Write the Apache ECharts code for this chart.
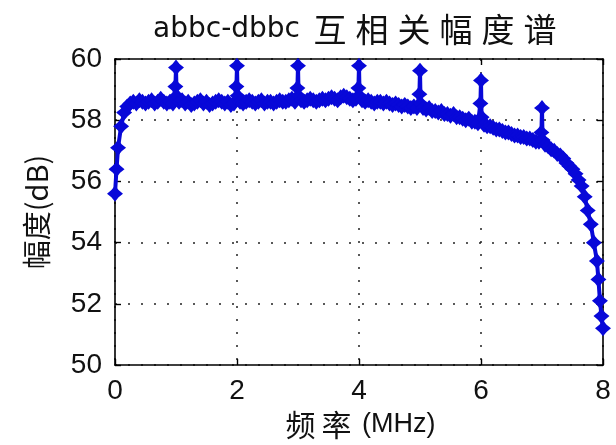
<!DOCTYPE html>
<html>
<head>
<meta charset="utf-8">
<script src="https://cdn.jsdelivr.net/npm/echarts@6/dist/echarts.min.js"></script>
<style>
  html, body { margin: 0; padding: 0; background: #fff; }
  #spectrum-chart { width: 616px; height: 445px; }
</style>
</head>
<body>
<div id="spectrum-chart"></div>
<script>
// frequency (MHz) / amplitude (dB)
let freqMHz = [
  0, 0.025, 0.05, 0.1, 0.15, 0.2, 0.25, 0.3, 0.35, 0.4, 0.45, 0.5, 0.55, 0.6, 0.65, 0.7, 0.75, 0.8, 0.85, 0.9, 0.95, 0.99, 1, 1.01,
  1.05, 1.1, 1.15, 1.2, 1.25, 1.3, 1.35, 1.4, 1.45, 1.5, 1.55, 1.6, 1.65, 1.7, 1.75, 1.8, 1.85, 1.9, 1.95, 1.99, 2, 2.01,
  2.05, 2.1, 2.15, 2.2, 2.25, 2.3, 2.35, 2.4, 2.45, 2.5, 2.55, 2.6, 2.65, 2.7, 2.75, 2.8, 2.85, 2.9, 2.95, 2.99, 3, 3.01,
  3.05, 3.1, 3.15, 3.2, 3.25, 3.3, 3.35, 3.4, 3.45, 3.5, 3.55, 3.6, 3.65, 3.7, 3.75, 3.8, 3.85, 3.9, 3.95, 3.99, 4, 4.01,
  4.05, 4.1, 4.15, 4.2, 4.25, 4.3, 4.35, 4.4, 4.45, 4.5, 4.55, 4.6, 4.65, 4.7, 4.75, 4.8, 4.85, 4.9, 4.95, 4.99, 5, 5.01,
  5.05, 5.1, 5.15, 5.2, 5.25, 5.3, 5.35, 5.4, 5.45, 5.5, 5.55, 5.6, 5.65, 5.7, 5.75, 5.8, 5.85, 5.9, 5.95, 5.99, 6, 6.01,
  6.05, 6.1, 6.15, 6.2, 6.25, 6.3, 6.35, 6.4, 6.45, 6.5, 6.55, 6.6, 6.65, 6.7, 6.75, 6.8, 6.85, 6.9, 6.95, 6.99, 7, 7.01,
  7.05, 7.1, 7.15, 7.2, 7.25, 7.3, 7.35, 7.4, 7.45, 7.5, 7.55, 7.6, 7.65, 7.7, 7.75, 7.8, 7.85, 7.9, 7.925, 7.95, 7.975, 8
];
let ampDb = [
  55.6, 56.4, 57.1, 57.8, 58.25, 58.45, 58.55, 58.6, 58.55, 58.65, 58.6, 58.55, 58.6, 58.65, 58.55, 58.6, 58.7, 58.6, 58.55, 58.6, 58.55, 59.1, 59.72, 58.8,
  58.6, 58.65, 58.55, 58.6, 58.5, 58.55, 58.6, 58.65, 58.55, 58.6, 58.5, 58.55, 58.6, 58.65, 58.6, 58.55, 58.6, 58.5, 58.55, 59.1, 59.78, 58.8,
  58.6, 58.55, 58.6, 58.65, 58.6, 58.55, 58.6, 58.65, 58.55, 58.6, 58.6, 58.55, 58.6, 58.65, 58.6, 58.6, 58.65, 58.7, 58.6, 59.05, 59.78, 58.8,
  58.65, 58.6, 58.65, 58.7, 58.65, 58.6, 58.65, 58.7, 58.65, 58.7, 58.75, 58.7, 58.65, 58.75, 58.8, 58.75, 58.7, 58.65, 58.7, 59.05, 59.78, 58.8,
  58.65, 58.6, 58.65, 58.6, 58.55, 58.6, 58.6, 58.55, 58.6, 58.55, 58.5, 58.55, 58.5, 58.45, 58.5, 58.45, 58.4, 58.45, 58.4, 58.85, 59.62, 58.55,
  58.4, 58.35, 58.4, 58.3, 58.3, 58.25, 58.3, 58.2, 58.2, 58.15, 58.2, 58.1, 58.1, 58.05, 58.0, 58.05, 57.95, 57.95, 57.9, 58.55, 59.3, 58.1,
  57.85, 57.8, 57.8, 57.75, 57.7, 57.7, 57.65, 57.6, 57.6, 57.55, 57.5, 57.5, 57.45, 57.45, 57.4, 57.4, 57.35, 57.3, 57.3, 57.6, 58.4, 57.35,
  57.2, 57.15, 57.05, 57.0, 56.9, 56.85, 56.75, 56.6, 56.5, 56.4, 56.25, 56.05, 55.85, 55.5, 55.05, 54.6, 54.0, 53.4, 52.8, 52.1, 51.6, 51.2
];
let xTicks = [0, 2, 4, 6, 8];
let yTicks = [50, 52, 54, 56, 58, 60];

let seriesData = freqMHz.map((f, i) => [f, ampDb[i]]);

let spectrumChart = echarts.init(document.getElementById('spectrum-chart'));

let labelFont = 'Liberation Sans';
let cjkFont = '"Noto Sans CJK SC", "Liberation Sans"';
let starPath = 'path://M0,-10 L4.5,-4.5 L10,0 L4.5,4.5 L0,10 L-4.5,4.5 L-10,0 L-4.5,-4.5 Z';

let dotGrid = {
  show: true,
  lineStyle: { color: '#222', width: 1.5, type: [2, 11] }
};

let spectrumOption = {
  backgroundColor: '#fff',
  animation: false,
  title: {
    text: '{a|abbc-dbbc }{c|互}{c|相}{c|关}{c|幅}{c|度}{c|谱}',
    left: 352,
    top: 8,
    textAlign: 'center',
    textStyle: {
      fontWeight: 'normal',
      rich: {
        a: { fontFamily: 'DejaVu Sans', fontSize: 28, fontWeight: 'normal', color: '#111' },
        c: { fontFamily: cjkFont, fontSize: 33, fontWeight: 'normal', color: '#111', width: 42, align: 'center' }
      }
    }
  },
  grid: { left: 115, right: 13, top: 59, bottom: 76, show: false },
  xAxis: [
    {
      type: 'value',
      min: 0,
      max: 8,
      interval: 2,
      name: '{c|频}{c|率}{a| (MHz)}',
      nameLocation: 'middle',
      nameGap: 40,
      nameTextStyle: {
        rich: {
          a: { fontFamily: labelFont, fontSize: 27, color: '#111' },
          c: { fontFamily: cjkFont, fontSize: 30, color: '#111', width: 36, align: 'center' }
        }
      },
      axisLine: { show: true, onZero: false, lineStyle: { color: '#000', width: 1.6 } },
      axisTick: { show: true, inside: true, length: 6, lineStyle: { color: '#000', width: 1.4 } },
      axisLabel: {
        margin: 12,
        fontFamily: labelFont,
        fontSize: 28,
        color: '#111',
        formatter: v => xTicks.indexOf(v) >= 0 ? String(v) : ''
      },
      splitLine: dotGrid
    },
    {
      type: 'value',
      position: 'top',
      min: 0,
      max: 8,
      interval: 2,
      axisLine: { show: true, onZero: false, lineStyle: { color: '#000', width: 1.6 } },
      axisTick: { show: true, inside: true, length: 6, lineStyle: { color: '#000', width: 1.4 } },
      axisLabel: { show: false },
      splitLine: { show: false }
    }
  ],
  yAxis: [
    {
      type: 'value',
      min: 50,
      max: 60,
      interval: 2,
      name: '幅度(dB)',
      nameLocation: 'middle',
      nameGap: 64,
      nameTextStyle: { fontFamily: cjkFont, fontSize: 29, color: '#111' },
      axisLine: { show: true, onZero: false, lineStyle: { color: '#000', width: 1.6 } },
      axisTick: { show: true, inside: true, length: 6, lineStyle: { color: '#000', width: 1.4 } },
      axisLabel: {
        margin: 13,
        fontFamily: labelFont,
        fontSize: 28,
        color: '#111',
        formatter: v => yTicks.indexOf(v) >= 0 ? String(v) : ''
      },
      splitLine: dotGrid
    },
    {
      type: 'value',
      position: 'right',
      min: 50,
      max: 60,
      interval: 2,
      axisLine: { show: true, onZero: false, lineStyle: { color: '#000', width: 1.6 } },
      axisTick: { show: true, inside: true, length: 6, lineStyle: { color: '#000', width: 1.4 } },
      axisLabel: { show: false },
      splitLine: { show: false }
    }
  ],
  series: [
    {
      name: '互相关幅度',
      type: 'line',
      data: seriesData,
      xAxisIndex: 0,
      yAxisIndex: 0,
      showSymbol: true,
      showAllSymbol: true,
      symbol: starPath,
      symbolSize: 16,
      clip: false,
      itemStyle: { color: '#0808d8' },
      lineStyle: { color: '#0808d8', width: 4 },
      z: 3
    }
  ]
};

spectrumChart.setOption(spectrumOption);
</script>
</body>
</html>
